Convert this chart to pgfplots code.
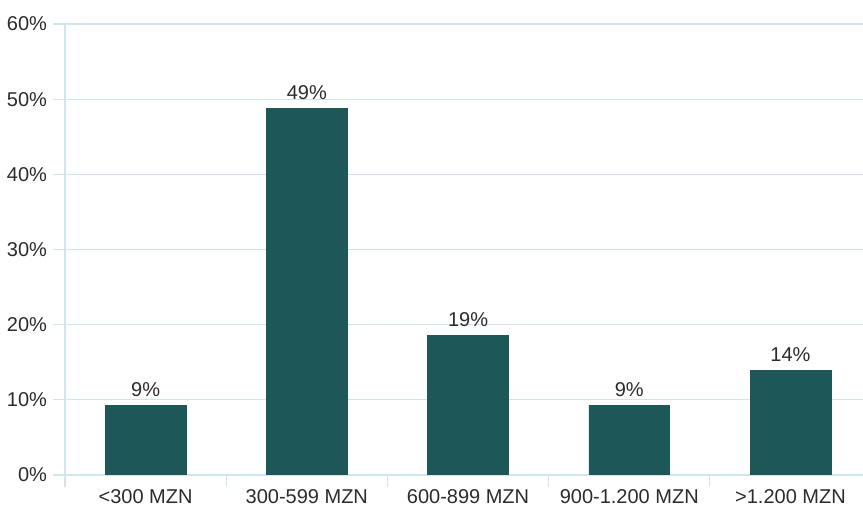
\documentclass[border=0pt]{standalone}
\usepackage{fontspec}
\setmainfont{Liberation Sans}
\usepackage{pgfplots}
\pgfplotsset{compat=1.18}
\usetikzlibrary{calc}

\definecolor{barteal}{HTML}{1D5757}
\definecolor{gridblue}{HTML}{CFE6EC}
\definecolor{txt}{HTML}{2B2B2B}

\begin{document}
\begin{tikzpicture}
\begin{axis}[
  name=ax,
  scale only axis,
  width=598.5pt, height=338.25pt,
  xmin=-0.5, xmax=4.45,
  ymin=0, ymax=60,
  ytick={0,10,...,60},
  yticklabel={\pgfmathprintnumber{\tick}\%},
  xtick={0,1,2,3,4},
  xticklabels={{<300 MZN},{300-599 MZN},{600-899 MZN},{900-1.200 MZN},{>1.200 MZN}},
  minor xtick={-0.5,0.5,1.5,2.5,3.5},
  major x tick style={draw=none},
  minor x tick style={draw=gridblue, line width=0.8pt},
  minor tick length=9pt,
  tick align=outside,
  axis x line*=bottom,
  axis y line*=left,
  axis line style={draw=gridblue, line width=0.8pt, -},
  ymajorgrids,
  grid style={draw=gridblue, line width=0.8pt},
  major y tick style={draw=gridblue, line width=0.8pt},
  major tick length=9pt,
  /pgf/number format/assume math mode=true,
  tick label style={font=\fontsize{15}{17}\selectfont, text=txt},
  yticklabel style={xshift=-1pt},
  xticklabel style={yshift=1.5pt},
  ybar,
  bar width=0.5,
  nodes near coords={\pgfmathprintnumber[fixed,precision=0]{\pgfplotspointmeta}\%},
  nodes near coords style={font=\fontsize{15}{17}\selectfont, text=txt, yshift=3pt},
]
\addplot[fill=barteal, draw=barteal] coordinates {
  (0,9.3) (1,48.8) (2,18.6) (3,9.3) (4,13.9)
};
\end{axis}
\pgfresetboundingbox
\path ($(ax.south west)+(-48.75pt,-24.75pt)$) rectangle ($(ax.north east)+(0,18pt)$);
\end{tikzpicture}
\end{document}
